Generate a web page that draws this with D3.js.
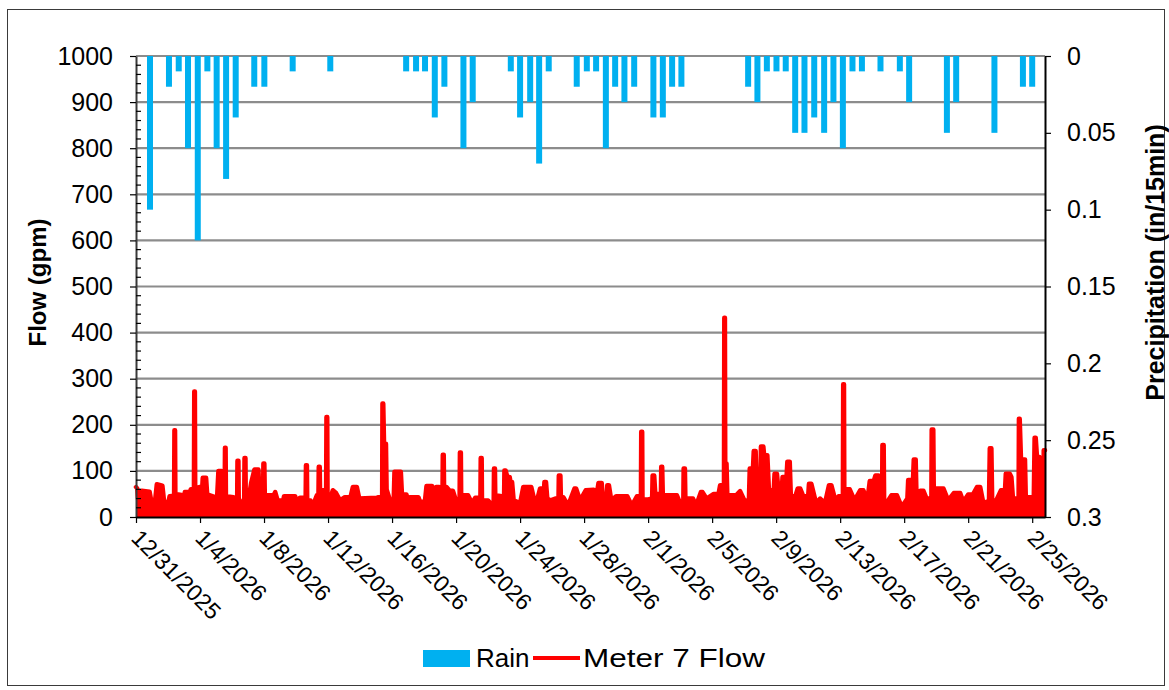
<!DOCTYPE html>
<html>
<head>
<meta charset="utf-8">
<script src="https://cdn.jsdelivr.net/npm/d3@7"></script>
<style>
  html, body { margin: 0; padding: 0; background: #fff; }
  svg { display: block; font-family: "Liberation Sans", Arial, sans-serif; }
</style>
</head>
<body>
<svg id="chart" width="1169" height="690"></svg>
<script>
// ---------------- DATA ----------------
// Dates on the x axis (tick labels, every 4 days)
const xTickLabels = ["12/31/2025","1/4/2026","1/8/2026","1/12/2026","1/16/2026","1/20/2026","1/24/2026",
  "1/28/2026","2/1/2026","2/5/2026","2/9/2026","2/13/2026","2/17/2026","2/21/2026","2/25/2026"];
const flowTickValues = [0,100,200,300,400,500,600,700,800,900,1000];
const rainTickValues = [0,0.05,0.1,0.15,0.2,0.25,0.3];
const rainTickLabels = ["0","0.05","0.1","0.15","0.2","0.25","0.3"];

// Rain: time (days since 12/31/2025 00:00) and depth (in/15min)
const rainDays = [0.875,2.06,2.67,3.25,3.86,4.46,5.04,5.63,6.23,7.39,8.02,9.79,12.14,16.88,17.5,18.06,18.67,19.27,
  20.46,21.04,23.42,24.0,24.63,25.19,25.79,27.54,28.17,28.75,29.36,29.94,30.52,31.13,32.33,32.92,33.5,34.08,
  38.25,38.83,39.42,40.02,40.6,41.19,41.77,42.38,43.0,43.58,44.17,44.77,45.36,46.52,47.73,48.31,50.67,51.25,
  53.64,55.42,56.0];
const rainValues = [0.10,0.02,0.01,0.06,0.12,0.01,0.06,0.08,0.04,0.02,0.02,0.01,0.01,0.01,0.01,0.01,0.04,0.02,
  0.06,0.03,0.01,0.04,0.03,0.07,0.01,0.02,0.01,0.01,0.06,0.02,0.03,0.02,0.04,0.04,0.02,0.02,
  0.02,0.03,0.01,0.01,0.01,0.05,0.05,0.04,0.05,0.03,0.06,0.01,0.01,0.01,0.01,0.03,0.05,0.03,
  0.05,0.02,0.02];

// Meter 7 Flow: time (days since 12/31/2025 00:00) and flow (gpm)
const flowDays = [0.00,0.08,0.12,0.28,0.36,0.85,0.95,1.20,1.30,1.65,1.75,1.98,2.10,2.38,2.40,2.44,2.46,2.85,2.95,3.05,
  3.38,3.42,3.62,3.64,3.68,3.70,4.00,4.10,4.17,4.38,4.45,4.95,5.05,5.15,5.35,5.40,5.54,5.56,5.60,5.62,
  6.10,6.20,6.32,6.34,6.40,6.42,6.55,6.76,6.78,6.84,6.86,7.00,7.20,7.40,7.65,7.72,7.94,7.96,8.02,8.05,
  8.60,8.70,8.85,9.20,9.25,9.95,10.05,10.25,10.60,10.62,10.68,10.70,10.90,11.05,11.30,11.40,11.42,11.48,11.50,11.88,
  11.90,11.95,11.97,12.10,12.30,12.50,12.75,13.05,13.40,13.55,13.80,13.95,15.05,15.15,15.38,15.40,15.45,15.50,15.62,15.66,
  15.90,16.10,16.15,16.55,16.62,16.90,17.00,17.10,17.65,17.75,18.05,18.15,18.50,18.60,18.75,18.95,19.10,19.15,19.17,19.23,
  19.25,19.40,19.60,19.80,20.05,20.22,20.24,20.30,20.32,20.75,21.00,21.20,21.52,21.54,21.60,21.62,22.00,22.15,22.35,22.37,
  22.43,22.45,22.85,23.00,23.02,23.10,23.20,23.35,23.40,23.50,23.60,24.00,24.20,24.70,24.85,25.05,25.25,25.50,25.52,25.62,
  25.70,25.90,26.20,26.40,26.42,26.52,26.55,26.70,27.00,27.40,27.50,27.75,28.10,28.60,28.70,28.90,29.10,29.20,29.40,29.45,
  29.55,29.70,30.00,30.70,30.98,31.30,31.55,31.57,31.63,31.65,32.00,32.25,32.28,32.38,32.45,32.80,32.82,32.88,32.92,33.80,
  34.00,34.20,34.22,34.30,34.33,34.80,35.00,35.30,35.40,35.65,36.10,36.40,36.50,36.74,36.76,36.80,36.82,36.90,36.95,37.50,
  37.75,38.10,38.30,38.35,38.55,38.60,38.72,38.80,39.00,39.05,39.20,39.25,39.45,39.55,39.85,39.90,40.05,40.15,40.35,40.40,
  40.65,40.70,40.85,40.92,41.20,41.35,41.50,41.70,42.00,42.05,42.20,42.50,42.75,43.05,43.30,43.45,43.70,43.90,44.17,44.19,
  44.24,44.26,44.60,44.90,45.25,45.45,45.70,45.85,46.10,46.20,46.40,46.45,46.62,46.64,46.72,46.75,46.95,47.20,47.55,47.85,
  48.20,48.25,48.55,48.60,48.72,48.78,49.00,49.20,49.40,49.70,49.72,49.82,49.85,50.45,50.75,51.10,51.50,51.70,52.00,52.30,
  52.55,52.75,52.95,53.30,53.35,53.45,53.50,53.75,54.05,54.30,54.35,54.60,54.70,54.80,55.15,55.17,55.22,55.30,55.55,55.60,
  55.90,56.10,56.15,56.22,56.30,56.45,56.55,56.70,56.72,56.80];
const flowGpm = [65,62,40,38,57,55,36,38,71,68,36,25,45,46,188,188,50,48,32,54,
  55,60,60,272,272,62,65,40,85,85,49,43,32,100,100,50,50,150,150,45,
  43,32,35,122,122,40,32,35,128,128,40,32,75,103,103,45,45,116,116,47,
  47,54,36,36,45,45,32,42,42,112,112,36,36,25,47,47,109,109,58,58,
  217,217,36,36,58,52,36,43,43,65,65,40,42,43,43,246,246,159,159,60,
  33,33,98,98,49,49,30,43,43,33,33,67,67,36,65,65,45,45,135,135,
  65,65,57,57,30,35,140,140,47,47,30,42,42,128,128,36,36,30,32,105,
  105,47,45,45,101,101,87,87,76,76,36,30,65,65,43,35,62,62,76,76,
  40,36,40,40,90,90,43,43,25,62,62,36,58,59,30,74,74,32,32,69,
  69,36,45,45,25,45,45,185,185,38,38,40,90,90,50,50,109,109,47,47,
  30,35,105,105,40,40,25,54,54,40,50,50,69,69,432,432,116,116,47,47,
  56,30,40,105,105,143,143,40,40,153,153,134,134,58,58,94,94,58,58,87,
  87,120,120,45,45,62,62,45,45,72,72,30,40,30,69,69,36,45,45,288,
  288,60,60,36,58,58,36,78,78,90,90,43,43,156,156,33,33,47,47,22,
  40,80,80,125,125,33,57,57,40,40,190,190,62,62,36,52,52,33,49,49,
  65,65,30,35,149,149,36,36,58,58,94,94,87,40,40,213,213,125,125,43,
  43,45,172,172,130,130,36,36,145,145];

// ---------------- CHART ----------------
const M = {left: 136, right: 1045, top: 56, bottom: 517};
const svg = d3.select("#chart");
const parse = d3.timeParse("%m/%d/%Y");
const start = parse(xTickLabels[0]);
const dayMs = 86400000;
const toDate = d => new Date(start.getTime() + d * dayMs);
const endDay = 56.8;
const FONT = "Liberation Sans, Arial, sans-serif";

const x = d3.scaleTime().domain([start, toDate(endDay)]).range([M.left, M.right]);
const yFlow = d3.scaleLinear().domain([0, 1000]).range([M.bottom, M.top]);
const yRain = d3.scaleLinear().domain([0, 0.3]).range([M.top, M.bottom]);

// Outer border
svg.append("rect").attr("x", 7.5).attr("y", 9.5).attr("width", 1157).attr("height", 676)
  .attr("fill", "none").attr("stroke", "#3a3a3a").attr("stroke-width", 1);

// Gridlines
svg.append("g").selectAll("line").data(flowTickValues.filter(v => v > 0)).join("line")
  .attr("x1", M.left).attr("x2", M.right)
  .attr("y1", d => yFlow(d)).attr("y2", d => yFlow(d))
  .attr("stroke", "#8c8c8c").attr("stroke-width", 2.2);

// Rain bars
const rainData = rainDays.map((d, i) => ({t: toDate(d), v: rainValues[i]}));
svg.append("g").selectAll("rect").data(rainData).join("rect")
  .attr("x", d => x(d.t) - 3).attr("width", 6)
  .attr("y", yRain(0)).attr("height", d => yRain(d.v) - yRain(0))
  .attr("fill", "#00B0F0");

// Flow
const flowData = flowDays.map((d, i) => ({t: toDate(d), v: flowGpm[i]}));
const area = d3.area().x(d => x(d.t)).y0(yFlow(0)).y1(d => yFlow(d.v));
const line = d3.line().x(d => x(d.t)).y(d => yFlow(d.v));
svg.append("path").datum(flowData).attr("d", area).attr("fill", "#FF0000");
svg.append("path").datum(flowData).attr("d", line).attr("fill", "none")
  .attr("stroke", "#FF0000").attr("stroke-width", 4.5)
  .attr("stroke-linejoin", "round").attr("stroke-linecap", "round");

// Left axis
const gL = svg.append("g").attr("transform", `translate(${M.left},0)`)
  .call(d3.axisLeft(yFlow).tickValues(flowTickValues).tickFormat(d3.format("d"))
    .tickSize(6).tickPadding(17).tickSizeOuter(0));
gL.select(".domain").attr("stroke", "#3a3a3a").attr("stroke-width", 2);
gL.selectAll(".tick line").attr("stroke", "#000").attr("stroke-width", 1.2);
gL.selectAll("text").attr("font-size", 25).attr("fill", "#000").attr("font-family", FONT);
// minor ticks (inside)
const minor = d3.range(0, 1001, 20).filter(v => v % 100 !== 0);
svg.append("g").selectAll("line").data(minor).join("line")
  .attr("x1", M.left).attr("x2", M.left + 5)
  .attr("y1", d => yFlow(d)).attr("y2", d => yFlow(d))
  .attr("stroke", "#000").attr("stroke-width", 1.2);

// Right axis
const gR = svg.append("g").attr("transform", `translate(${M.right},0)`)
  .call(d3.axisRight(yRain).tickValues(rainTickValues).tickSize(6).tickPadding(16).tickSizeOuter(0)
    .tickFormat((d, i) => rainTickLabels[i]));
gR.select(".domain").attr("stroke", "#000").attr("stroke-width", 2);
gR.selectAll(".tick line").attr("stroke", "#000").attr("stroke-width", 1.2);
gR.selectAll("text").attr("font-size", 25).attr("fill", "#000").attr("font-family", FONT);

// Bottom axis
const xTicks = xTickLabels.map(parse);
const gB = svg.append("g").attr("transform", `translate(0,${M.bottom})`)
  .call(d3.axisBottom(x).tickValues(xTicks).tickSize(6).tickSizeOuter(0).tickFormat((d, i) => xTickLabels[i]));
gB.select(".domain").attr("stroke", "#000").attr("stroke-width", 2);
gB.selectAll(".tick line").attr("stroke", "#000").attr("stroke-width", 1.2);
gB.selectAll("text")
  .attr("font-size", 23).attr("fill", "#000").attr("font-family", FONT)
  .attr("text-anchor", "start")
  .attr("x", 0).attr("y", 0).attr("dy", "0.71em")
  .attr("transform", "translate(5,11) rotate(45)");

// Axis titles
svg.append("text").attr("transform", `translate(46,${(M.top + M.bottom) / 2 - 4}) rotate(-90)`)
  .attr("text-anchor", "middle").attr("font-size", 24).attr("font-weight", "bold")
  .attr("font-family", FONT).text("Flow (gpm)");
svg.append("text").attr("transform", `translate(1164,${(M.top + M.bottom) / 2 - 24}) rotate(-90)`)
  .attr("text-anchor", "middle").attr("font-size", 25).attr("font-weight", "bold")
  .attr("font-family", FONT).text("Precipitation (in/15min)");

// Legend
const lg = svg.append("g");
lg.append("rect").attr("x", 423).attr("y", 650).attr("width", 47).attr("height", 17).attr("fill", "#00B0F0");
lg.append("text").attr("x", 476).attr("y", 667).attr("font-size", 26).attr("font-family", FONT).text("Rain");
lg.append("line").attr("x1", 533).attr("x2", 580).attr("y1", 658).attr("y2", 658)
  .attr("stroke", "#FF0000").attr("stroke-width", 4);
lg.append("text").attr("x", 583).attr("y", 667).attr("font-size", 26).attr("font-family", FONT)
  .attr("textLength", 182).attr("lengthAdjust", "spacingAndGlyphs").text("Meter 7 Flow");
</script>
</body>
</html>
